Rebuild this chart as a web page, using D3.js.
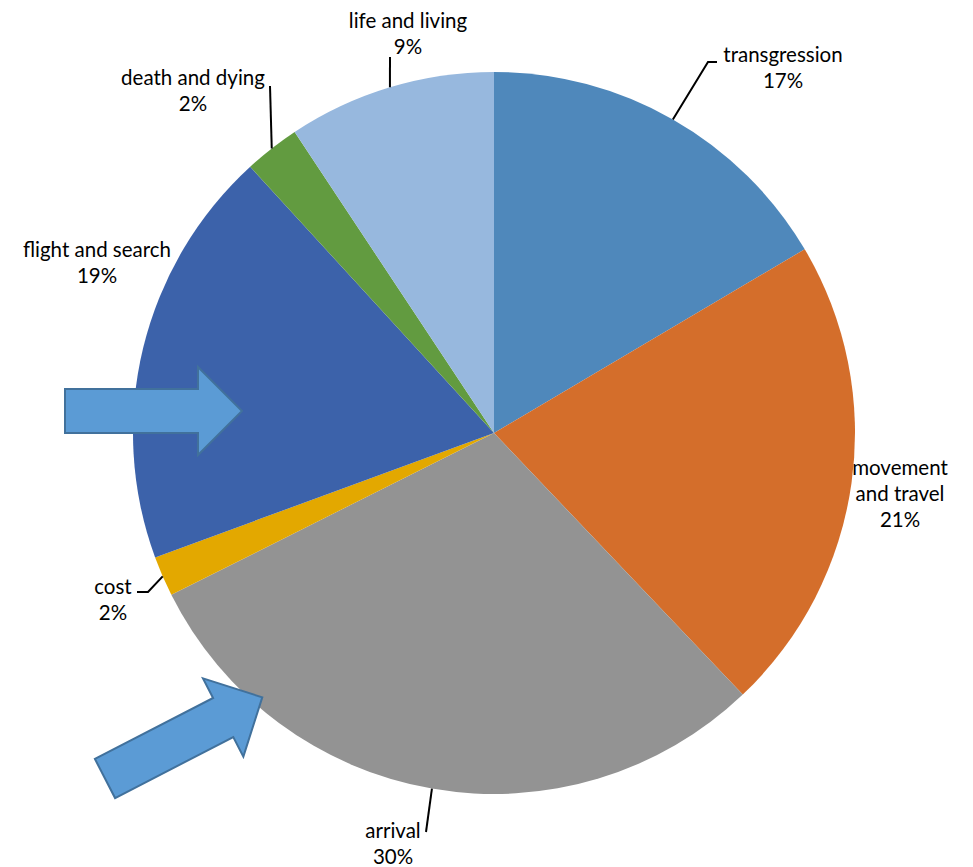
<!DOCTYPE html>
<html lang="en">
<head>
  <meta charset="UTF-8" />
  <title>Themes pie</title>
  <script src="https://d3js.org/d3.v7.min.js"></script>
  <style>
    body { margin: 0; background: #fff; }
    svg { display: block; }
    .lbl { font-family: Lato, "Open Sans", sans-serif; font-size: 20.5px; fill: #000; }
  </style>
</head>
<body>
  <svg id="pie" width="973" height="867"></svg>

  <script>
    // chart data (percent share)
    const categories = ["transgression", "movement and travel", "arrival", "cost",
                        "flight and search", "death and dying", "life and living"];
    const shares = [16.5, 21.4, 29.7, 1.8, 18.8, 2.49, 9.31];
    const colours = ["#4F88BB", "#D46E2B", "#939393", "#E3A800", "#3C62AA", "#629B40", "#97B8DE"];

    const width = 973, height = 867;
    const cx = 494, cy = 433, r = 361;

    const svg = d3.select("#pie");
    const g = svg.append("g").attr("transform", `translate(${cx},${cy})`);

    const pie = d3.pie().sort(null).value(d => d.v);
    const arc = d3.arc().innerRadius(0).outerRadius(r);

    const rows = categories.map((c, i) => ({ name: c, v: shares[i], col: colours[i] }));
    const arcs = pie(rows);

    g.selectAll("path.slice")
      .data(arcs)
      .enter().append("path")
      .attr("class", "slice")
      .attr("d", arc)
      .attr("fill", d => d.data.col);

    // label placement: text lines centred at (x, y0 + k*lh), optional leader path
    const place = {
      "transgression":       { x: 783, y: 55,  lines: ["transgression"], leader: [[708, 62], [717, 62]] },
      "movement and travel": { x: 900, y: 468, lines: ["movement", "and travel"] },
      "arrival":             { x: 393, y: 831, lines: ["arrival"], leader: [[426, 832]] },
      "cost":                { x: 113, y: 587, lines: ["cost"], leader: [[148, 592], [137, 592]] },
      "flight and search":   { x: 97,  y: 250, lines: ["flight and search"] },
      "death and dying":     { x: 193, y: 78,  lines: ["death and dying"], leader: [[270, 86]] },
      "life and living":     { x: 408, y: 21,  lines: ["life and living"], leader: [[390, 57]] }
    };
    const lh = 26;

    arcs.forEach(a => {
      const p = place[a.data.name];
      const mid = (a.startAngle + a.endAngle) / 2;
      if (p.leader) {
        const start = [cx + r * Math.sin(mid), cy - r * Math.cos(mid)];
        svg.append("path")
          .attr("d", d3.line()([start, ...p.leader]))
          .attr("fill", "none")
          .attr("stroke", "#000")
          .attr("stroke-width", 2);
      }
      const txt = p.lines.concat([Math.round(a.data.v) + "%"]);
      svg.append("text")
        .attr("class", "lbl")
        .attr("text-anchor", "middle")
        .selectAll("tspan")
        .data(txt)
        .enter().append("tspan")
        .attr("x", p.x)
        .attr("y", (d, i) => p.y + i * lh)
        .attr("dy", "0.35em")
        .text(d => d);
    });

    // block arrows (callouts)
    const arrowShape = { len: 177, shaft: 44, head: 88, headLen: 44 };
    const arrows = [
      { x: 65, y: 411, angle: 0 },
      { x: 105, y: 778.5, angle: -27.3 }
    ];
    function arrowPath(s) {
      const b = s.len - s.headLen;
      return d3.line()([
        [0, -s.shaft / 2], [b, -s.shaft / 2], [b, -s.head / 2], [s.len, 0],
        [b, s.head / 2], [b, s.shaft / 2], [0, s.shaft / 2]
      ]) + "Z";
    }
    svg.selectAll("path.arrow")
      .data(arrows)
      .enter().append("path")
      .attr("class", "arrow")
      .attr("d", arrowPath(arrowShape))
      .attr("transform", d => `translate(${d.x},${d.y}) rotate(${d.angle})`)
      .attr("fill", "#5B9BD5")
      .attr("stroke", "#41719C")
      .attr("stroke-width", 2)
      .attr("stroke-linejoin", "miter");
  </script>
</body>
</html>
